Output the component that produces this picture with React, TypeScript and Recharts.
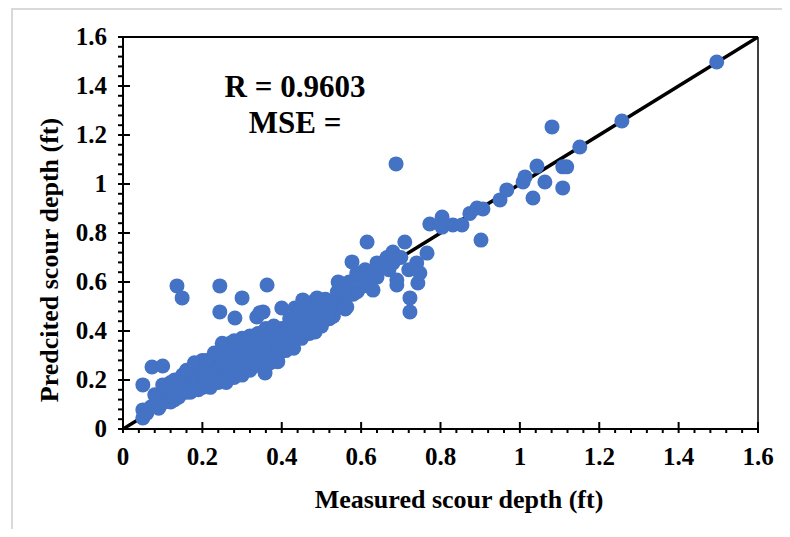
import { ScatterChart, Scatter, XAxis, YAxis, ReferenceLine } from "recharts";

const FONT = '"Times New Roman", "Liberation Serif", serif';
const BLUE = "#4472C4";

// axis ticks (ft)
const MAJOR_TICKS = [0, 0.2, 0.4, 0.6, 0.8, 1, 1.2, 1.4, 1.6];
const MINOR_STEPS = 5;

const BAND_LOW: [number, number][] = [
  [0.05, 0.045], [0.05, 0.078], [0.06, 0.065], [0.07, 0.09], [0.08, 0.1], [0.09, 0.085],
  [0.09, 0.13], [0.1, 0.106], [0.1, 0.15], [0.11, 0.12], [0.11, 0.17], [0.12, 0.14],
  [0.12, 0.19], [0.13, 0.2], [0.13, 0.12], [0.14, 0.16], [0.14, 0.13], [0.15, 0.18],
  [0.15, 0.22], [0.16, 0.15], [0.16, 0.2], [0.17, 0.17], [0.17, 0.23], [0.18, 0.16],
  [0.18, 0.21], [0.19, 0.26], [0.19, 0.19], [0.2, 0.17], [0.2, 0.23], [0.2, 0.28],
  [0.08, 0.14], [0.1, 0.18], [0.12, 0.11], [0.13, 0.17], [0.15, 0.15], [0.16, 0.24],
  [0.17, 0.15], [0.18, 0.27], [0.19, 0.16], [0.2, 0.25],
];

const BAND_MID: [number, number][] = [
  [0.21, 0.2], [0.21, 0.25], [0.22, 0.18], [0.22, 0.22], [0.23, 0.27], [0.23, 0.2],
  [0.24, 0.24], [0.24, 0.3], [0.245, 0.2], [0.25, 0.33], [0.25, 0.27], [0.26, 0.22],
  [0.26, 0.25], [0.26, 0.3], [0.27, 0.23], [0.27, 0.28], [0.27, 0.35], [0.28, 0.26],
  [0.28, 0.31], [0.29, 0.24], [0.29, 0.29], [0.29, 0.34], [0.3, 0.27], [0.3, 0.32],
  [0.3, 0.37], [0.31, 0.25], [0.31, 0.3], [0.31, 0.35], [0.32, 0.28], [0.32, 0.33],
  [0.33, 0.31], [0.33, 0.36], [0.34, 0.29], [0.34, 0.34], [0.35, 0.32], [0.35, 0.37],
  [0.36, 0.3], [0.36, 0.35], [0.37, 0.33], [0.37, 0.38], [0.38, 0.31], [0.38, 0.36],
  [0.39, 0.34], [0.39, 0.39], [0.4, 0.32], [0.4, 0.37], [0.4, 0.41],
  [0.21, 0.28], [0.22, 0.17], [0.23, 0.31], [0.24, 0.19], [0.25, 0.35], [0.26, 0.19],
  [0.28, 0.36], [0.28, 0.21], [0.3, 0.22], [0.32, 0.38], [0.32, 0.24], [0.34, 0.39],
  [0.34, 0.26], [0.36, 0.41], [0.37, 0.27], [0.38, 0.42], [0.39, 0.3],
];

const BAND_HIGH: [number, number][] = [
  [0.41, 0.35], [0.41, 0.4], [0.42, 0.38], [0.42, 0.43], [0.43, 0.36], [0.43, 0.41],
  [0.44, 0.39], [0.44, 0.45], [0.45, 0.42], [0.45, 0.47], [0.46, 0.4], [0.46, 0.44],
  [0.47, 0.43], [0.47, 0.49], [0.48, 0.41], [0.48, 0.46], [0.49, 0.44], [0.49, 0.5],
  [0.5, 0.46], [0.5, 0.52], [0.51, 0.48], [0.52, 0.45], [0.52, 0.51], [0.53, 0.49],
  [0.54, 0.52], [0.55, 0.55], [0.55, 0.5], [0.56, 0.53], [0.57, 0.57], [0.58, 0.55],
  [0.58, 0.6], [0.6, 0.58], [0.6, 0.62], [0.62, 0.6], [0.63, 0.64], [0.64, 0.62],
  [0.65, 0.66], [0.67, 0.65],
  [0.41, 0.32], [0.42, 0.45], [0.43, 0.33], [0.44, 0.48], [0.45, 0.37], [0.46, 0.5],
  [0.47, 0.39], [0.48, 0.52], [0.5, 0.42], [0.51, 0.53], [0.53, 0.46], [0.54, 0.56],
  [0.56, 0.49], [0.57, 0.6], [0.59, 0.56], [0.61, 0.65],
];

const SCATTERED: [number, number][] = [
  [0.05, 0.18], [0.073, 0.253], [0.1, 0.257], [0.136, 0.584], [0.149, 0.535], [0.244, 0.584],
  [0.244, 0.478], [0.3, 0.535], [0.282, 0.453], [0.337, 0.457], [0.345, 0.475], [0.353, 0.478],
  [0.363, 0.588], [0.358, 0.229], [0.39, 0.275], [0.4, 0.494], [0.433, 0.494], [0.453, 0.527],
  [0.489, 0.535], [0.489, 0.486], [0.516, 0.465], [0.484, 0.396], [0.542, 0.6], [0.564, 0.498],
  [0.514, 0.473], [0.547, 0.596], [0.554, 0.567], [0.584, 0.608], [0.597, 0.608], [0.589, 0.637],
  [0.577, 0.682], [0.615, 0.763], [0.63, 0.567], [0.64, 0.678], [0.665, 0.7], [0.68, 0.722],
  [0.68, 0.678], [0.69, 0.608], [0.69, 0.588], [0.7, 0.7], [0.72, 0.65], [0.71, 0.763],
  [0.723, 0.535], [0.723, 0.478], [0.74, 0.678], [0.743, 0.596], [0.748, 0.637], [0.766, 0.718],
  [0.688, 1.082],
];

const UPPER_RANGE: [number, number][] = [
  [0.773, 0.837], [0.804, 0.865], [0.804, 0.824], [0.831, 0.833], [0.854, 0.833], [0.874, 0.88],
  [0.892, 0.902], [0.907, 0.898], [0.902, 0.771], [0.95, 0.935], [0.967, 0.976], [1.008, 1.008],
  [1.013, 1.029], [1.033, 0.943], [1.043, 1.073], [1.063, 1.008], [1.081, 1.233], [1.108, 1.07],
  [1.118, 1.07], [1.108, 0.984], [1.151, 1.151], [1.257, 1.257], [1.496, 1.498],
];

const POINTS = [...BAND_LOW, ...BAND_MID, ...BAND_HIGH, ...SCATTERED, ...UPPER_RANGE].map(
  ([x, y]) => ({ x, y })
);

const DIAGONAL = [
  { x: 0, y: 0 },
  { x: 1.6, y: 1.6 },
];

const ALL_TICKS: number[] = [];
MAJOR_TICKS.forEach((t, i) => {
  if (i === 0) {
    ALL_TICKS.push(t);
    return;
  }
  const prev = MAJOR_TICKS[i - 1];
  for (let k = 1; k <= MINOR_STEPS; k++) {
    ALL_TICKS.push(Math.round((prev + ((t - prev) * k) / MINOR_STEPS) * 1000) / 1000);
  }
});

const isMajor = (v: number) => MAJOR_TICKS.some((m) => Math.abs(m - v) < 1e-6);
const fmt = (v: number) => String(Math.round(v * 10) / 10);

const TICK_FONT = 25;

function XTick({ x, y, payload }: any) {
  const v = payload.value;
  const major = isMajor(v);
  return (
    <g>
      <line x1={x} x2={x} y1={major ? y - 7 : y} y2={y + 4} stroke="#000" strokeWidth={2} />
      {major && (
        <text x={x} y={y + 36} textAnchor="middle" fontFamily={FONT} fontWeight="bold" fontSize={TICK_FONT} fill="#000">
          {fmt(v)}
        </text>
      )}
    </g>
  );
}

function YTick({ x, y, payload }: any) {
  const v = payload.value;
  const major = isMajor(v);
  return (
    <g>
      <line x1={x - 5} x2={major ? x + 7 : x} y1={y} y2={y} stroke="#000" strokeWidth={2} />
      {major && (
        <text x={x - 16} y={y + 8} textAnchor="end" fontFamily={FONT} fontWeight="bold" fontSize={TICK_FONT} fill="#000">
          {fmt(v)}
        </text>
      )}
    </g>
  );
}

const Dot = (props: any) => <circle cx={props.cx} cy={props.cy} r={7.5} fill={BLUE} />;

export default function App() {
  return (
    <div style={{ position: "relative", width: 782, height: 521 }}>
      <div
        style={{
          position: "absolute",
          left: 3,
          top: 0,
          right: 0,
          bottom: 0,
          borderLeft: "2px solid #d9d9d9",
          borderTop: "2px solid #d9d9d9",
        }}
      />
      <div style={{ position: "absolute", left: 0, top: 0 }}>
        <ScatterChart width={782} height={521} margin={{ top: 29, right: 32, bottom: 60, left: 45 }}>
          <XAxis
            type="number"
            dataKey="x"
            domain={[0, 1.6]}
            ticks={ALL_TICKS}
            interval={0}
            tickSize={0}
            tickMargin={0}
            tickLine={false}
            tick={<XTick />}
            axisLine={{ stroke: "#000", strokeWidth: 2 }}
            height={40}
            allowDataOverflow
          />
          <YAxis
            type="number"
            dataKey="y"
            domain={[0, 1.6]}
            ticks={ALL_TICKS}
            interval={0}
            tickSize={0}
            tickMargin={0}
            tickLine={false}
            tick={<YTick />}
            axisLine={{ stroke: "#000", strokeWidth: 2 }}
            width={70}
            allowDataOverflow
          />
          <ReferenceLine y={1.6} stroke="#000" strokeWidth={2} />
          <ReferenceLine x={1.6} stroke="#000" strokeWidth={1.5} />
          <Scatter
            data={DIAGONAL}
            line={{ stroke: "#000", strokeWidth: 3.5 }}
            shape={() => <g />}
            isAnimationActive={false}
          />
          <Scatter data={POINTS} fill={BLUE} shape={Dot} isAnimationActive={false} />
          <text x={287} y={89} textAnchor="middle" fontFamily={FONT} fontWeight="bold" fontSize={31} fill="#000">
            R = 0.9603
          </text>
          <text x={287} y={125} textAnchor="middle" fontFamily={FONT} fontWeight="bold" fontSize={31} fill="#000">
            MSE =
          </text>
          <text x={451} y={500} textAnchor="middle" fontFamily={FONT} fontWeight="bold" fontSize={26} fill="#000">
            Measured scour depth (ft)
          </text>
          <text
            x={50}
            y={252}
            textAnchor="middle"
            transform="rotate(-90, 50, 252)"
            fontFamily={FONT}
            fontWeight="bold"
            fontSize={26}
            fill="#000"
          >
            Predcited scour depth (ft)
          </text>
        </ScatterChart>
      </div>
    </div>
  );
}
